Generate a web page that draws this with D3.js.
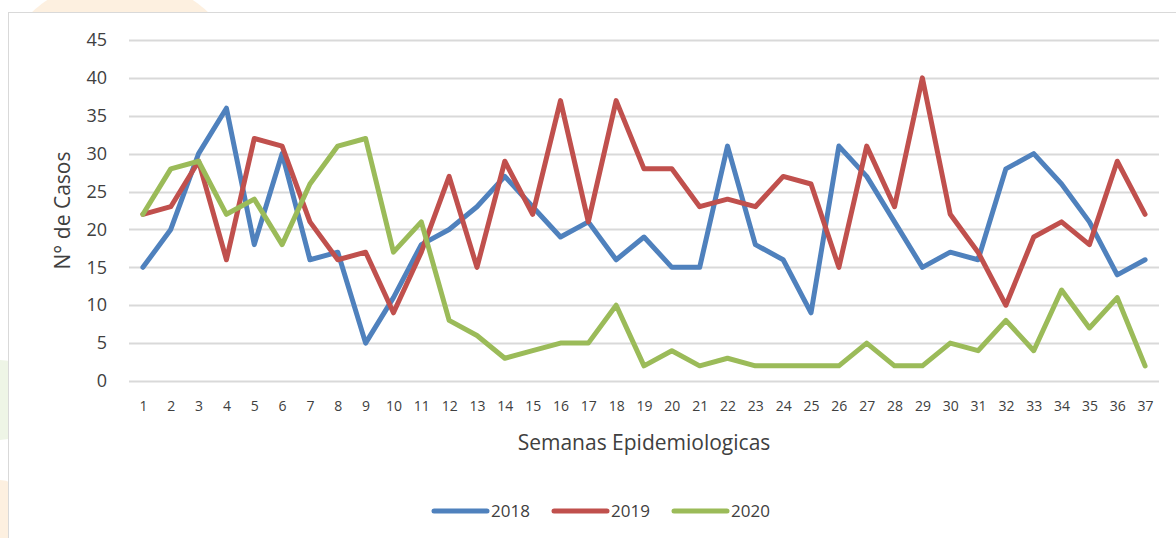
<!DOCTYPE html>
<html>
<head>
<meta charset="utf-8">
<script src="https://cdn.jsdelivr.net/npm/d3@7"></script>
<style>
  html, body { margin: 0; padding: 0; background: #fff; }
  svg { display: block; font-family: 'Open Sans', sans-serif; }
</style>
</head>
<body>
<svg id="chart" width="1176" height="538"></svg>
<script>
const weeks = d3.range(1, 38)
const cases2018 = [15, 20, 30, 36, 18, 30, 16, 17, 5, 11, 18, 20, 23, 27, 23, 19, 21, 16, 19, 15, 15, 31, 18, 16, 9, 31, 27, 21, 15, 17, 16, 28, 30, 26, 21, 14, 16]
const cases2019 = [22, 23, 29, 16, 32, 31, 21, 16, 17, 9, 17, 27, 15, 29, 22, 37, 21, 37, 28, 28, 23, 24, 23, 27, 26, 15, 31, 23, 40, 22, 17, 10, 19, 21, 18, 29, 22]
const cases2020 = [22, 28, 29, 22, 24, 18, 26, 31, 32, 17, 21, 8, 6, 3, 4, 5, 5, 10, 2, 4, 2, 3, 2, 2, 2, 2, 5, 2, 2, 5, 4, 8, 4, 12, 7, 11, 2]
const yTicks = [0, 5, 10, 15, 20, 25, 30, 35, 40, 45]
const seriesNames = ['2018', '2019', '2020']

const series = [
  { name: seriesNames[0], values: cases2018, color: '#4f81bd' },
  { name: seriesNames[1], values: cases2019, color: '#c0504d' },
  { name: seriesNames[2], values: cases2020, color: '#9bbb59' }
]

const width = 1176
const height = 538
const margin = { top: 40, right: 17, bottom: 157, left: 129 }

const svg = d3.select('#chart')

// faint background watermark behind the chart box
const bg = svg.append('g')
bg.append('ellipse').attr('cx', 120).attr('cy', 60).attr('rx', 110).attr('ry', 80)
  .attr('fill', '#fdf0e0')
bg.append('ellipse').attr('cx', 0).attr('cy', 400).attr('rx', 40).attr('ry', 40)
  .attr('fill', '#eef5e6')
bg.append('ellipse').attr('cx', 0).attr('cy', 520).attr('rx', 30).attr('ry', 40)
  .attr('fill', '#fdf0e0')

// chart box
svg.append('rect')
  .attr('x', 8.5).attr('y', 12.5)
  .attr('width', width).attr('height', height)
  .attr('fill', '#fff')
  .attr('stroke', '#d9d9d9')

const x = d3.scalePoint()
  .domain(weeks)
  .range([margin.left, width - margin.right])
  .padding(0.5)

const y = d3.scaleLinear()
  .domain([0, 45])
  .range([height - margin.bottom, margin.top])

// gridlines
svg.append('g')
  .selectAll('line')
  .data(yTicks)
  .join('line')
  .attr('x1', margin.left)
  .attr('x2', width - margin.right)
  .attr('y1', d => Math.round(y(d)) + 0.5)
  .attr('y2', d => Math.round(y(d)) + 0.5)
  .attr('stroke', '#d9d9d9')
  .attr('stroke-width', 2)

// y axis labels
const yAxis = svg.append('g')
  .attr('transform', `translate(${margin.left - 22},0)`)
  .call(d3.axisLeft(y).tickValues(yTicks).tickSize(0).tickPadding(0))
yAxis.select('.domain').remove()
yAxis.selectAll('text')
  .attr('font-size', 18)
  .attr('fill', '#404040')
  .style('font-family', "'Open Sans', sans-serif")

// x axis labels
const xAxis = svg.append('g')
  .attr('transform', `translate(0,${y(0) + 20})`)
  .call(d3.axisBottom(x).tickSize(0).tickPadding(0))
xAxis.select('.domain').remove()
xAxis.selectAll('text')
  .attr('font-size', 14)
  .attr('fill', '#404040')
  .style('font-family', "'Open Sans', sans-serif")

// axis titles
svg.append('text')
  .attr('x', 644)
  .attr('y', 450)
  .attr('text-anchor', 'middle')
  .attr('font-size', 21)
  .attr('fill', '#404040')
  .text('Semanas Epidemiologicas')

svg.append('text')
  .attr('transform', `translate(70,${y(22.5)}) rotate(-90)`)
  .attr('text-anchor', 'middle')
  .attr('font-size', 21)
  .attr('fill', '#404040')
  .text('N° de Casos')

// lines
const line = d3.line()
  .x((d, i) => x(weeks[i]))
  .y(d => y(d))

svg.append('g')
  .selectAll('path')
  .data(series)
  .join('path')
  .attr('d', d => line(d.values))
  .attr('fill', 'none')
  .attr('stroke', d => d.color)
  .attr('stroke-width', 5)
  .attr('stroke-linejoin', 'round')
  .attr('stroke-linecap', 'round')

// legend
const legend = svg.append('g')
  .selectAll('g')
  .data(series)
  .join('g')
  .attr('transform', (d, i) => `translate(${434 + i * 120},511)`)

legend.append('line')
  .attr('x1', 0).attr('x2', 53)
  .attr('stroke', d => d.color)
  .attr('stroke-width', 5)
  .attr('stroke-linecap', 'round')

legend.append('text')
  .attr('x', 57)
  .attr('dy', '0.35em')
  .attr('font-size', 17)
  .attr('fill', '#404040')
  .text(d => d.name)
</script>
</body>
</html>
